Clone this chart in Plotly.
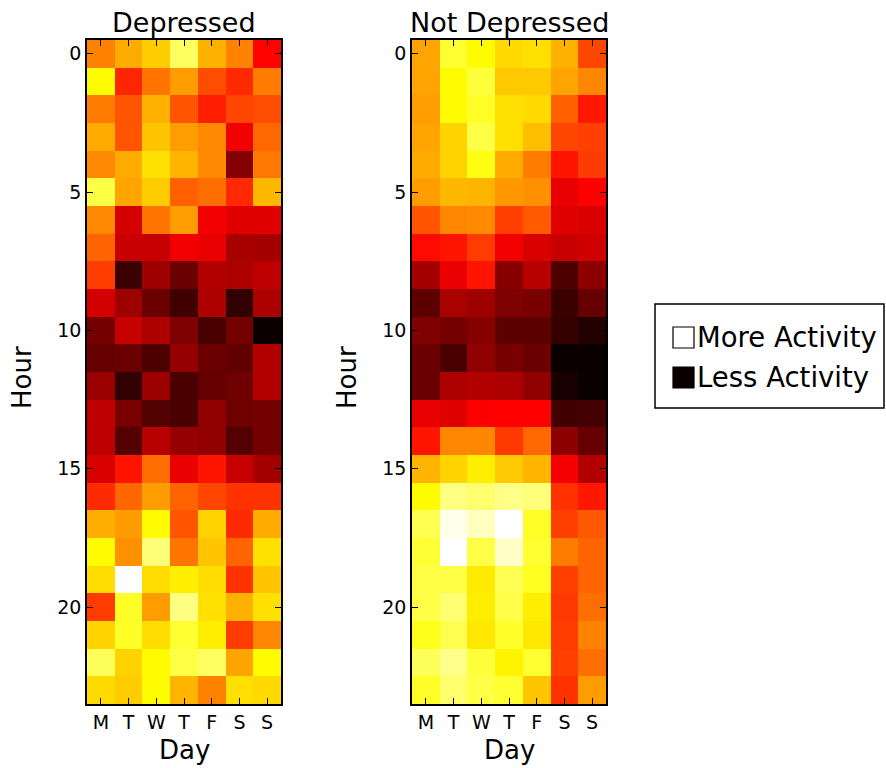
import plotly.graph_objects as go

days = ["M", "T", "W", "T", "F", "S", "S"]
day_pos = [0, 1, 2, 3, 4, 5, 6]
hours = list(range(24))
hour_ticks = [0, 5, 10, 15, 20]

# Activity level (0 = less activity, 1 = more activity), rows = hour 0..23, cols = M..S
depressed = [
    [0.56, 0.62, 0.67, 0.84, 0.63, 0.56, 0.37],
    [0.74, 0.42, 0.54, 0.60, 0.48, 0.43, 0.55],
    [0.55, 0.49, 0.63, 0.49, 0.41, 0.47, 0.48],
    [0.62, 0.49, 0.66, 0.60, 0.57, 0.345, 0.52],
    [0.57, 0.62, 0.70, 0.635, 0.57, 0.18, 0.545],
    [0.815, 0.61, 0.67, 0.51, 0.53, 0.425, 0.64],
    [0.57, 0.30, 0.54, 0.60, 0.345, 0.32, 0.32],
    [0.515, 0.285, 0.28, 0.345, 0.335, 0.235, 0.23],
    [0.455, 0.07, 0.22, 0.143, 0.25, 0.243, 0.27],
    [0.30, 0.22, 0.143, 0.08, 0.243, 0.057, 0.243],
    [0.157, 0.28, 0.243, 0.172, 0.093, 0.157, 0.0],
    [0.136, 0.143, 0.10, 0.207, 0.143, 0.129, 0.25],
    [0.215, 0.057, 0.215, 0.093, 0.136, 0.15, 0.25],
    [0.27, 0.165, 0.107, 0.093, 0.20, 0.15, 0.157],
    [0.265, 0.107, 0.258, 0.207, 0.20, 0.107, 0.157],
    [0.308, 0.395, 0.53, 0.335, 0.395, 0.28, 0.23],
    [0.43, 0.52, 0.60, 0.515, 0.47, 0.44, 0.44],
    [0.625, 0.60, 0.74, 0.49, 0.68, 0.43, 0.62],
    [0.74, 0.58, 0.865, 0.54, 0.66, 0.515, 0.70],
    [0.695, 1.00, 0.695, 0.72, 0.695, 0.44, 0.66],
    [0.455, 0.785, 0.60, 0.875, 0.70, 0.63, 0.70],
    [0.68, 0.785, 0.695, 0.795, 0.72, 0.455, 0.565],
    [0.835, 0.68, 0.74, 0.815, 0.845, 0.61, 0.74],
    [0.69, 0.67, 0.74, 0.635, 0.56, 0.70, 0.69],
]

not_depressed = [
    [0.61, 0.795, 0.74, 0.69, 0.70, 0.63, 0.47],
    [0.61, 0.74, 0.805, 0.665, 0.665, 0.61, 0.565],
    [0.60, 0.74, 0.785, 0.70, 0.69, 0.51, 0.40],
    [0.61, 0.68, 0.815, 0.70, 0.65, 0.47, 0.46],
    [0.62, 0.68, 0.765, 0.62, 0.55, 0.395, 0.455],
    [0.60, 0.64, 0.635, 0.59, 0.58, 0.33, 0.365],
    [0.49, 0.565, 0.57, 0.46, 0.50, 0.32, 0.308],
    [0.38, 0.395, 0.455, 0.345, 0.308, 0.285, 0.293],
    [0.23, 0.335, 0.395, 0.186, 0.258, 0.10, 0.193],
    [0.122, 0.236, 0.22, 0.172, 0.165, 0.07, 0.136],
    [0.172, 0.157, 0.186, 0.122, 0.122, 0.065, 0.035],
    [0.143, 0.093, 0.20, 0.165, 0.143, 0.0, 0.0],
    [0.143, 0.243, 0.25, 0.243, 0.20, 0.02, 0.0],
    [0.33, 0.32, 0.358, 0.365, 0.365, 0.08, 0.086],
    [0.395, 0.565, 0.565, 0.45, 0.52, 0.193, 0.136],
    [0.635, 0.68, 0.72, 0.665, 0.635, 0.35, 0.25],
    [0.74, 0.875, 0.855, 0.88, 0.87, 0.44, 0.40],
    [0.825, 0.98, 0.935, 1.00, 0.785, 0.46, 0.50],
    [0.80, 1.00, 0.815, 0.945, 0.795, 0.55, 0.515],
    [0.815, 0.815, 0.715, 0.83, 0.78, 0.46, 0.515],
    [0.815, 0.86, 0.72, 0.82, 0.72, 0.45, 0.53],
    [0.775, 0.825, 0.71, 0.79, 0.71, 0.455, 0.56],
    [0.835, 0.885, 0.805, 0.73, 0.795, 0.46, 0.53],
    [0.785, 0.855, 0.815, 0.795, 0.66, 0.44, 0.60],
]

titles = ["Depressed", "Not Depressed"]
legend_labels = ["More Activity", "Less Activity"]

# matplotlib "hot" colormap
hot = [
    [0.0, "rgb(11,0,0)"],
    [0.365079, "rgb(255,0,0)"],
    [0.746032, "rgb(255,255,0)"],
    [1.0, "rgb(255,255,255)"],
]

W, H = 886, 768
FONT = "DejaVu Sans"


def fx(p):
    return p / W


def fy(p):
    return 1 - p / H


fig = go.Figure()
fig.add_trace(go.Heatmap(z=depressed, x=day_pos, y=hours, colorscale=hot,
                         zmin=0, zmax=1, showscale=False, xaxis="x", yaxis="y",
                         name=titles[0]))
fig.add_trace(go.Heatmap(z=not_depressed, x=day_pos, y=hours, colorscale=hot,
                         zmin=0, zmax=1, showscale=False, xaxis="x2", yaxis="y2",
                         name=titles[1]))

panels = [(87, 281), (412, 606)]
top, bottom = 40, 704

common_x = dict(range=[-0.5, 6.5], tickmode="array", tickvals=day_pos, ticktext=days,
                ticks="inside", ticklen=6, tickwidth=1, tickcolor="black",
                mirror="ticks", showline=True, linecolor="black", linewidth=1.5,
                showgrid=False, zeroline=False, automargin=False,
                tickfont=dict(family=FONT, size=19, color="black"))
common_y = dict(range=[23.5, -0.5], tickmode="array", tickvals=hour_ticks,
                ticks="inside", ticklen=6, tickwidth=1, tickcolor="black",
                mirror="ticks", showline=True, linecolor="black", linewidth=1.5,
                showgrid=False, zeroline=False, automargin=False,
                tickfont=dict(family=FONT, size=19, color="black"),
                domain=[fy(bottom), fy(top)])

fig.update_layout(
    width=W, height=H,
    margin=dict(l=0, r=0, t=0, b=0),
    paper_bgcolor="white", plot_bgcolor="white",
    font=dict(family=FONT, color="black"),
    showlegend=False,
    xaxis=dict(common_x, domain=[fx(panels[0][0]), fx(panels[0][1])], anchor="y"),
    yaxis=dict(common_y, anchor="x"),
    xaxis2=dict(common_x, domain=[fx(panels[1][0]), fx(panels[1][1])], anchor="y2"),
    yaxis2=dict(common_y, anchor="x2"),
)

annotations = []
for (x0, x1), title in zip(panels, titles):
    cx = (x0 + x1) / 2
    annotations.append(dict(text=title, x=fx(cx), y=fy(22), xref="paper", yref="paper",
                            xanchor="center", yanchor="middle", showarrow=False,
                            font=dict(family=FONT, size=27, color="black")))
    annotations.append(dict(text="Day", x=fx(cx), y=fy(750), xref="paper", yref="paper",
                            xanchor="center", yanchor="middle", showarrow=False,
                            font=dict(family=FONT, size=26, color="black")))
    annotations.append(dict(text="Hour", x=fx(x0 - 65), y=fy(378), xref="paper", yref="paper",
                            xanchor="center", yanchor="middle", showarrow=False, textangle=-90,
                            font=dict(family=FONT, size=26, color="black")))

# legend box
shapes = [
    dict(type="rect", xref="paper", yref="paper", x0=fx(655), x1=fx(884), y0=fy(408), y1=fy(304),
         line=dict(color="black", width=1.5), fillcolor="white"),
    dict(type="rect", xref="paper", yref="paper", x0=fx(673), x1=fx(694), y0=fy(348), y1=fy(327),
         line=dict(color="black", width=1.2), fillcolor="white"),
    dict(type="rect", xref="paper", yref="paper", x0=fx(673), x1=fx(694), y0=fy(388), y1=fy(367),
         line=dict(color="black", width=1.2), fillcolor="rgb(11,0,0)"),
]
for label, yc in zip(legend_labels, [337, 377]):
    annotations.append(dict(text=label, x=fx(695), y=fy(yc), xref="paper", yref="paper",
                            xanchor="left", yanchor="middle", showarrow=False,
                            font=dict(family=FONT, size=27.5, color="black")))

fig.update_layout(annotations=annotations, shapes=shapes)

fig.write_html(
    "out.html",
    config={"displayModeBar": False},
    post_script="document.body.style.margin='0';document.body.style.overflow='hidden';",
)
